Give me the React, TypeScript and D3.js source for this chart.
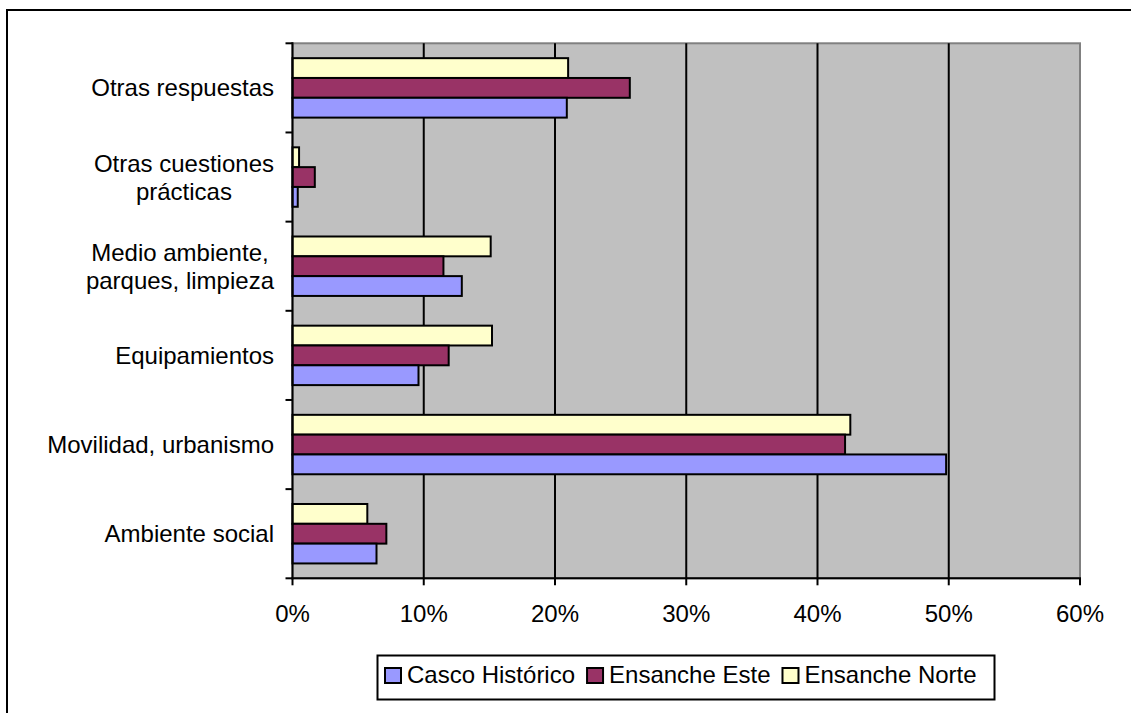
import React from "react";
import * as d3 from "d3";

const categories = [
  "Otras respuestas",
  "Otras cuestiones\nprácticas",
  "Medio ambiente,\nparques, limpieza",
  "Equipamientos",
  "Movilidad, urbanismo",
  "Ambiente social",
];
const seriesNames = ["Ensanche Norte", "Ensanche Este", "Casco Histórico"];
const ensancheNorte = [21.0, 0.5, 15.1, 15.2, 42.5, 5.7];
const ensancheEste = [25.7, 1.7, 11.5, 11.9, 42.1, 7.15];
const cascoHistorico = [20.9, 0.4, 12.9, 9.6, 49.8, 6.4];
const seriesColors = ["#FFFFCC", "#993366", "#9999FF"];
const xTicks = [0, 10, 20, 30, 40, 50, 60];
const legendOrder = ["Casco Histórico", "Ensanche Este", "Ensanche Norte"];

const FONT = "Arial, 'Liberation Sans', sans-serif";
const FS = 24;

function measure(text: string): number {
  const c = document.createElement("canvas").getContext("2d");
  if (!c) return text.length * FS * 0.5;
  c.font = `${FS}px ${FONT}`;
  return c.measureText(text).width;
}

export default function App() {
  const W = 1131, H = 713;
  const left = 292.5, right = 1080, top = 43.3, bottom = 578.3;
  const x = d3.scaleLinear().domain([0, 60]).range([left, right]);
  const y = d3.scaleBand().domain(categories).range([top, bottom]).padding(0);
  const sub = d3.scaleBand().domain(seriesNames).range([0, y.bandwidth()]).paddingInner(0).paddingOuter(0.75);
  const seriesData = [ensancheNorte, ensancheEste, cascoHistorico];
  const colorOf = (s: string) => seriesColors[seriesNames.indexOf(s)];

  // legend layout
  const legendX0 = 385;
  let cur = legendX0;
  const legendItems = legendOrder.map((name) => {
    const item = { name, sx: cur, tx: cur + 22 };
    cur = cur + 22 + measure(name) + 12;
    return item;
  });

  return (
    <div style={{ position: "absolute", left: 0, top: 0 }}>
      <svg width={W} height={H} style={{ display: "block", overflow: "hidden" }} fontFamily={FONT}>
        <rect x={0} y={0} width={W} height={H} fill="#fff" />
        <rect x={7} y={10} width={1200} height={800} fill="none" stroke="#000" strokeWidth={2} />
        {/* plot background */}
        <rect x={left} y={top} width={right - left} height={bottom - top} fill="#C0C0C0" stroke="#808080" strokeWidth={2} />
        {/* gridlines */}
        {xTicks.slice(1, -1).map((t) => (
          <line key={t} x1={x(t)} x2={x(t)} y1={top} y2={bottom} stroke="#000" strokeWidth={2} />
        ))}
        {/* bars */}
        {categories.map((c, ci) =>
          seriesNames.map((s, si) => (
            <rect
              key={c + s}
              x={x(0)}
              y={(y(c) as number) + (sub(s) as number)}
              width={x(seriesData[si][ci]) - x(0)}
              height={sub.bandwidth()}
              fill={colorOf(s)}
              stroke="#000"
              strokeWidth={2}
            />
          ))
        )}
        {/* axes */}
        <line x1={left} x2={left} y1={top - 1} y2={bottom + 1} stroke="#000" strokeWidth={2} />
        <line x1={left - 1} x2={right + 1} y1={bottom} y2={bottom} stroke="#000" strokeWidth={2} />
        {categories.map((c) => (
          <line key={"t" + c} x1={left - 7} x2={left} y1={y(c) as number} y2={y(c) as number} stroke="#000" strokeWidth={2} />
        ))}
        <line x1={left - 7} x2={left} y1={bottom} y2={bottom} stroke="#000" strokeWidth={2} />
        {xTicks.map((t) => (
          <g key={"x" + t}>
            <line x1={x(t)} x2={x(t)} y1={bottom} y2={bottom + 7} stroke="#000" strokeWidth={2} />
            <text x={x(t)} y={bottom + 44} textAnchor="middle" fontSize={FS} fill="#000">
              {t + "%"}
            </text>
          </g>
        ))}
        {/* category labels */}
        {categories.map((c) => {
          const lines = c.split("\n");
          const maxW = Math.max(...lines.map(measure));
          const cx = 274 - maxW / 2;
          const center = (y(c) as number) + y.bandwidth() / 2;
          const lh = 28;
          const firstBase = center + 8.5 - ((lines.length - 1) * lh) / 2;
          return (
            <text key={"l" + c} textAnchor="middle" fontSize={FS} fill="#000">
              {lines.map((ln, i) => (
                <tspan key={i} x={cx} y={firstBase + i * lh}>
                  {ln}
                </tspan>
              ))}
            </text>
          );
        })}
        {/* legend */}
        <rect x={377.5} y={655.5} width={617} height={44} fill="#fff" stroke="#000" strokeWidth={2} />
        {legendItems.map((it) => (
          <g key={it.name}>
            <rect x={it.sx} y={668} width={16} height={15} fill={colorOf(it.name)} stroke="#000" strokeWidth={2} />
            <text x={it.tx} y={683} fontSize={FS} fill="#000">
              {it.name}
            </text>
          </g>
        ))}
      </svg>
    </div>
  );
}
